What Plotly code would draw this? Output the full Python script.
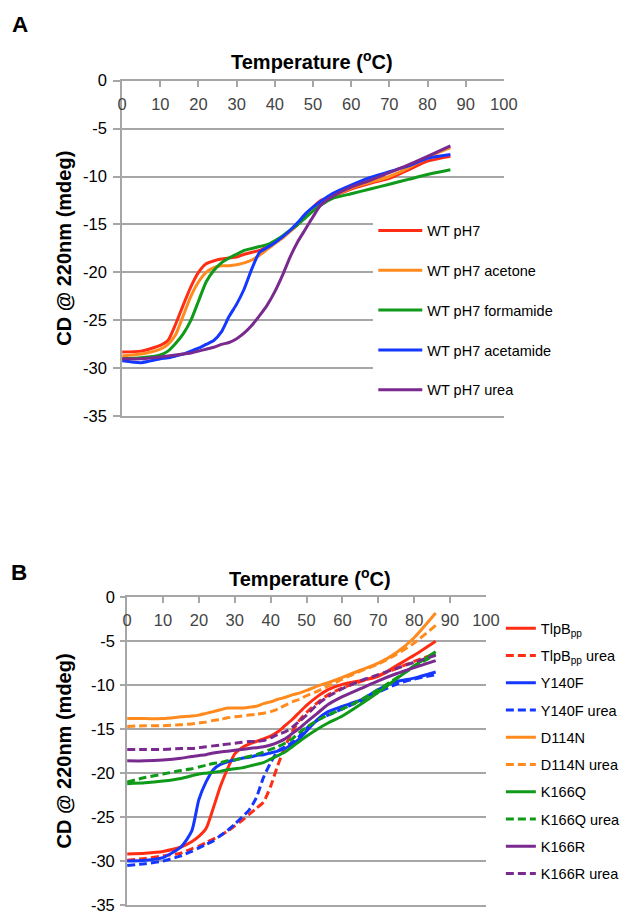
import plotly.graph_objects as go

# ---- panel A data (temperature in C, CD @ 220 nm in mdeg)
temp_a = [0, 5, 10, 12, 14, 16, 18, 20, 22, 24, 26, 28, 30, 32, 34, 36, 38, 40,
          42, 44, 46, 48, 50, 52, 55, 60, 65, 70, 75, 80, 86]
wt_ph7 = [-28.3, -28.2, -27.6, -27.1, -25.4, -23.4, -21.5, -20.0, -19.1, -18.8, -18.6,
          -18.5, -18.4, -18.1, -17.9, -17.7, -17.3, -16.9, -16.4, -15.7, -15.0, -14.1,
          -13.2, -12.5, -12.1, -11.3, -10.7, -10.2, -9.3, -8.4, -7.9]
wt_acetone = [-28.7, -28.5, -28.0, -27.5, -26.5, -24.5, -22.5, -21.0, -20.0, -19.5, -19.3,
              -19.3, -19.2, -19.0, -18.7, -18.2, -17.6, -17.0, -16.4, -15.7, -15.0, -14.2,
              -13.4, -12.7, -12.1, -11.2, -10.6, -10.0, -9.1, -8.0, -7.0]
wt_formamide = [-29.0, -28.9, -28.6, -28.2, -27.4, -26.4, -25.0, -23.0, -21.0, -19.8, -19.0,
                -18.5, -18.1, -17.7, -17.5, -17.3, -17.1, -16.7, -16.2, -15.6, -15.0, -14.3,
                -13.6, -13.0, -12.3, -11.8, -11.3, -10.8, -10.3, -9.8, -9.3]
wt_acetamide = [-29.2, -29.4, -29.0, -28.9, -28.7, -28.5, -28.2, -27.9, -27.5, -27.1, -26.2,
                -24.6, -23.3, -21.7, -19.6, -17.9, -17.4, -16.9, -16.3, -15.6, -14.8, -13.9,
                -13.2, -12.6, -11.8, -10.9, -10.1, -9.5, -8.9, -8.1, -7.7]
wt_urea = [-29.0, -29.0, -28.8, -28.7, -28.6, -28.5, -28.4, -28.2, -28.0, -27.8, -27.5,
           -27.3, -26.9, -26.3, -25.5, -24.5, -23.4, -22.0, -20.3, -18.4, -16.8, -15.5,
           -14.2, -13.0, -12.1, -11.1, -10.4, -9.6, -8.8, -7.9, -6.8]

# ---- panel B data
temp_b = [0, 5, 10, 15, 18, 20, 22, 24, 26, 28, 30, 32, 34, 36, 38, 40, 42, 44, 46,
          48, 50, 53, 56, 60, 65, 70, 75, 80, 86]
tlpb = [-29.2, -29.1, -28.9, -28.4, -27.8, -27.2, -26.3, -24.0, -21.5, -19.5, -17.8,
        -17.1, -16.7, -16.4, -16.1, -15.8, -15.3, -14.6, -13.9, -13.1, -12.3, -11.3,
        -10.5, -9.9, -9.5, -9.0, -7.8, -6.6, -5.0]
tlpb_urea = [-29.9, -29.7, -29.4, -29.1, -28.6, -28.3, -27.9, -27.5, -27.1, -26.6, -26.0,
             -25.4, -24.7, -24.0, -23.3, -21.5, -19.1, -17.0, -15.3, -14.0, -13.1, -12.0,
             -11.1, -10.3, -9.6, -8.9, -8.1, -7.3, -6.4]
y140f = [-30.0, -29.9, -29.6, -28.4, -26.6, -23.0, -21.0, -19.6, -19.0, -18.7, -18.5,
         -18.3, -18.2, -18.0, -17.9, -17.7, -17.5, -17.2, -16.7, -16.1, -15.2, -13.9,
         -13.0, -12.4, -11.7, -10.5, -9.6, -9.2, -8.5]
y140f_urea = [-30.5, -30.3, -30.0, -29.4, -28.9, -28.5, -28.1, -27.7, -27.1, -26.5, -25.8,
              -25.0, -24.2, -22.8, -20.5, -18.8, -17.5, -17.0, -16.5, -15.8, -14.9, -14.0,
              -13.4, -12.7, -11.8, -10.8, -9.9, -9.3, -8.8]
d114n = [-13.8, -13.8, -13.8, -13.6, -13.5, -13.4, -13.2, -13.0, -12.8, -12.6, -12.6,
         -12.6, -12.5, -12.4, -12.1, -11.9, -11.6, -11.4, -11.1, -10.9, -10.6, -10.1,
         -9.7, -9.1, -8.3, -7.5, -6.3, -4.6, -1.8]
d114n_urea = [-14.7, -14.6, -14.6, -14.5, -14.4, -14.3, -14.2, -14.0, -13.9, -13.7, -13.6,
              -13.5, -13.4, -13.3, -13.2, -13.0, -12.7, -12.3, -11.9, -11.6, -11.2, -10.7,
              -10.1, -9.3, -8.4, -7.6, -6.5, -5.2, -3.2]
k166q = [-21.2, -21.1, -20.9, -20.6, -20.3, -20.1, -20.0, -19.9, -19.8, -19.6, -19.5,
         -19.4, -19.2, -19.0, -18.8, -18.4, -18.0, -17.6, -17.0, -16.4, -15.8, -15.0,
         -14.3, -13.5, -12.2, -10.8, -9.3, -7.8, -6.2]
k166q_urea = [-21.0, -20.5, -20.1, -19.7, -19.5, -19.3, -19.1, -18.9, -18.8, -18.6, -18.5,
              -18.3, -18.1, -17.9, -17.6, -17.3, -17.0, -16.6, -16.1, -15.4, -14.8, -14.0,
              -13.4, -12.7, -11.7, -10.5, -9.2, -7.9, -6.5]
k166r = [-18.6, -18.6, -18.5, -18.3, -18.1, -18.0, -17.9, -17.7, -17.6, -17.5, -17.4,
         -17.3, -17.2, -17.1, -17.0, -16.8, -16.5, -16.1, -15.5, -14.9, -14.2, -13.2,
         -12.2, -11.3, -10.4, -9.5, -8.7, -8.0, -7.2]
k166r_urea = [-17.3, -17.3, -17.3, -17.2, -17.2, -17.1, -17.0, -16.9, -16.8, -16.7, -16.6,
              -16.5, -16.4, -16.4, -16.3, -16.0, -15.6, -15.3, -14.8, -14.1, -13.4, -12.2,
              -11.3, -10.4, -9.5, -8.8, -8.1, -7.4, -6.6]

y_ticks = [0, -5, -10, -15, -20, -25, -30, -35]
y_ticktext = ["0", "-5", "-10", "-15", "-20", "-25", "-30", "-35"]

W, H = 628, 919
# the page shows the figure slightly shrunk and shifted; positions below are
# screen pixels, converted back to figure pixels here
SX, CX = 0.973, 10.5
SY, CY = 0.981, 16.4
def px(x):
    return (x - CX) / SX / W
def py(y):
    return 1 - (y - CY) / SY / H

RED = "#ff2d14"
ORANGE = "#ff8a1e"
GREEN = "#0f9a1a"
BLUE = "#1438ff"
PURPLE = "#7a2a8e"
GRID = "#a6a6a6"

fig = go.Figure()

series_a = [("WT pH7", wt_ph7, RED), ("WT pH7 acetone", wt_acetone, ORANGE),
            ("WT pH7 formamide", wt_formamide, GREEN), ("WT pH7 acetamide", wt_acetamide, BLUE),
            ("WT pH7 urea", wt_urea, PURPLE)]
for name, vals, col in series_a:
    fig.add_trace(go.Scatter(x=temp_a, y=vals, name=name, mode="lines",
                             line=dict(color=col, width=3, shape="spline", smoothing=0.6),
                             xaxis="x", yaxis="y", legend="legend", legendgroup=name))

series_b = [("TlpB<sub>pp</sub>", tlpb, RED, "solid"), ("TlpB<sub>pp</sub> urea", tlpb_urea, RED, "dash"),
            ("Y140F", y140f, BLUE, "solid"), ("Y140F urea", y140f_urea, BLUE, "dash"),
            ("D114N", d114n, ORANGE, "solid"), ("D114N urea", d114n_urea, ORANGE, "dash"),
            ("K166Q", k166q, GREEN, "solid"), ("K166Q urea", k166q_urea, GREEN, "dash"),
            ("K166R", k166r, PURPLE, "solid"), ("K166R urea", k166r_urea, PURPLE, "dash")]
for name, vals, col, dash in series_b:
    fig.add_trace(go.Scatter(x=temp_b, y=vals, name=name, mode="lines",
                             line=dict(color=col, width=3, dash="8px,4px" if dash == "dash" else "solid",
                                       shape="spline", smoothing=0.6),
                             xaxis="x2", yaxis="y2", legend="legend2", legendgroup=name))

xax = dict(range=[0, 100], dtick=10, tick0=0, side="top", showline=True, mirror=True,
           linecolor=GRID, linewidth=2, ticks="inside", ticklen=6, tickcolor=GRID, tickwidth=2,
           ticklabelposition="inside", ticklabeloverflow="allow", ticklabelstandoff=12,
           showgrid=False, zeroline=False, tickfont=dict(size=16.5))
yax = dict(range=[-35, 0], tickvals=y_ticks, ticktext=y_ticktext, showline=True,
           linecolor=GRID, linewidth=2, showgrid=True, gridcolor=GRID, gridwidth=2,
           ticks="outside", tickcolor=GRID, tickwidth=2, zeroline=False, tickfont=dict(size=16.5))

def label(text, x, y, size, angle=0):
    return dict(text=text, x=px(x), y=py(y), xref="paper", yref="paper", showarrow=False,
                xanchor="center", yanchor="middle", textangle=angle, font=dict(size=size))

fig.update_layout(
    width=W, height=H,
    margin=dict(l=0, r=0, t=0, b=0),
    paper_bgcolor="white", plot_bgcolor="white",
    font=dict(family="Liberation Sans, Arial, sans-serif", size=16, color="black"),
    xaxis=dict(xax, domain=[px(120), px(503)], anchor="y"),
    yaxis=dict(yax, domain=[py(416), py(80)], anchor="x", ticklen=7, ticklabelstandoff=3),
    xaxis2=dict(xax, domain=[px(125), px(485)], anchor="y2"),
    yaxis2=dict(yax, domain=[py(905), py(597)], anchor="x2", ticklen=5, ticklabelstandoff=2),
    legend=dict(x=px(372), y=py(214), xanchor="left", yanchor="top", bgcolor="white",
                font=dict(size=14.5), tracegroupgap=18, itemwidth=44),
    legend2=dict(x=px(500), y=py(612), xanchor="left", yanchor="top", bgcolor="rgba(0,0,0,0)",
                 font=dict(size=14.5), tracegroupgap=5.4),
    annotations=[
        label("<b>A</b>", 18, 24, 22.5),
        label("<b>B</b>", 17, 572, 22.5),
        label("<b>Temperature (<sup>o</sup>C)</b>", 311, 60, 20),
        label("<b>Temperature (<sup>o</sup>C)</b>", 308, 577, 20),
        label("<b>CD @ 220nm (mdeg)</b>", 62, 248, 20, -90),
        label("<b>CD @ 220nm (mdeg)</b>", 62, 751, 20, -90),
    ],
)

fig.write_html("out.html")
